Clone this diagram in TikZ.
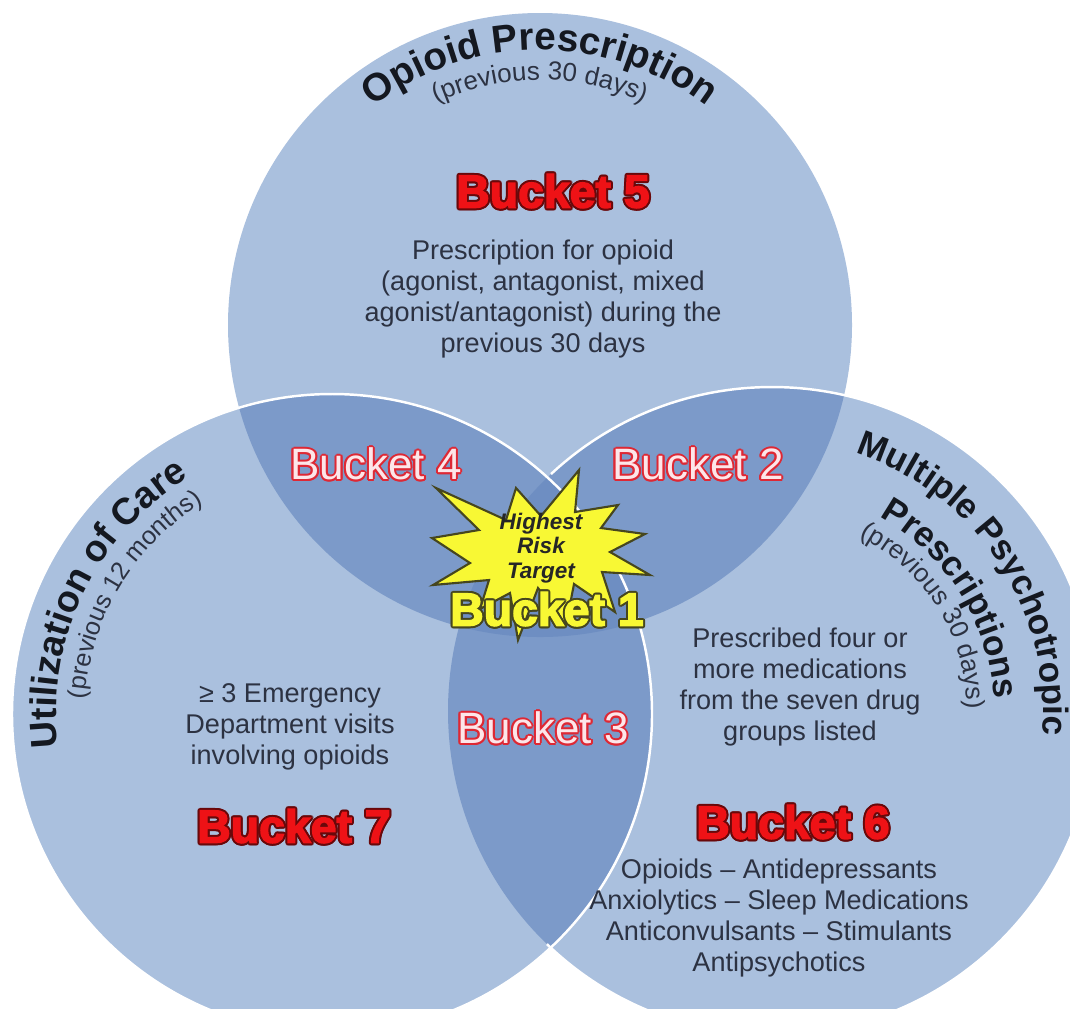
\documentclass[tikz,border=0pt]{standalone}
\usepackage{fontspec}
\setmainfont{Liberation Sans}
\newfontfamily\heavyfont[FakeBold=3]{Liberation Sans}
\usepackage{tikz}
\usetikzlibrary{calc}
\usetikzlibrary{decorations.text}

\definecolor{lightfill}{RGB}{170,192,222}
\definecolor{darkfill}{RGB}{124,154,201}
\definecolor{tripfill}{RGB}{110,142,194}
\definecolor{bodytext}{RGB}{44,50,66}
\definecolor{titletext}{RGB}{20,24,32}
\definecolor{bucketred}{RGB}{238,18,22}
\definecolor{bucketedge}{RGB}{105,8,10}
\definecolor{lenstext}{RGB}{253,230,233}
\definecolor{lensedge}{RGB}{222,40,52}
\definecolor{staryellow}{RGB}{248,248,52}
\definecolor{starline}{RGB}{70,70,30}

\tikzset{
  body/.style={inner sep=0pt, align=center, text=bodytext,
    font=\fontsize{7.7}{8.8}\selectfont},
  heavy/.style={inner sep=0pt, font=\heavyfont\bfseries\fontsize{13.2}{14}\selectfont},
  lens/.style={inner sep=0pt, font=\fontsize{12.5}{13}\selectfont},
  startext/.style={inner sep=0pt, align=center, text=black!85,
    font=\bfseries\itshape\fontsize{6.4}{6.9}\selectfont},
  rim/.style={draw=white, line width=0.7pt},
  arctitle/.style={decorate, decoration={text along path, text align=center}},
}

% text with a coloured edge: name, position, style, edge colour, text
\newcommand{\outlinetext}[5]{%
  \foreach \ang in {0,30,...,330}
    \node[#3, text=#4] (#1-\ang) at ($(#2)+(\ang:2)$) {#5};
  \node[#3] (#1) at (#2) {#5};
}

\begin{document}
\begin{tikzpicture}[x=0.01cm, y=0.01cm]
  \useasboundingbox (0,0) rectangle (1070,-1008);
  \clip (0,0) rectangle (1070,-1008);
  \fill[white] (0,0) rectangle (1070,-1008);

  % Circle centres
  \coordinate (opioid) at (540,-325);
  \coordinate (care) at (332,-714);
  \coordinate (psych) at (772,-711);

  % Circles
  \fill[lightfill] (opioid) circle[radius=312];
  \fill[lightfill] (psych) circle[radius=324];
  \fill[lightfill] (care) circle[radius=320];

  % Overlaps
  \begin{scope}
    \clip (opioid) circle[radius=312];
    \fill[darkfill] (care) circle[radius=320];
    \fill[darkfill] (psych) circle[radius=324];
  \end{scope}
  \begin{scope}
    \clip (care) circle[radius=320];
    \fill[darkfill] (psych) circle[radius=324];
    \clip (psych) circle[radius=324];
    \fill[tripfill] (opioid) circle[radius=312];
  \end{scope}

  % Rims
  \draw[rim] (care) circle[radius=320];
  \draw[rim] (psych) ++(-134:324) arc[start angle=-134, end angle=133, radius=324];

  % Titles along the circles
  \path[arctitle, decoration={text={|\color{titletext}\bfseries\fontsize{11}{11}\selectfont|Opioid Prescription}}]
    (opioid) ++(160:275) arc[start angle=160, end angle=20, radius=275];
  \path[arctitle, decoration={text={|\color{bodytext}\fontsize{7.4}{7.4}\selectfont|(previous 30 days)}}]
    (opioid) ++(160:245) arc[start angle=160, end angle=20, radius=245];

  \path[arctitle, decoration={text={|\color{titletext}\bfseries\fontsize{10.6}{10.6}\selectfont|Utilization of Care}}]
    (care) ++(224:276) arc[start angle=224, end angle=84, radius=276];
  \path[arctitle, decoration={text={|\color{bodytext}\fontsize{7.2}{7.2}\selectfont|(previous 12 months)}}]
    (care) ++(219:247) arc[start angle=219, end angle=79, radius=247];

  \path[arctitle, decoration={text={|\color{titletext}\bfseries\fontsize{10}{10}\selectfont|Multiple Psychotropic}}]
    (psych) ++(108:271) arc[start angle=108, end angle=-41, radius=271];
  \path[arctitle, decoration={text={|\color{titletext}\bfseries\fontsize{10}{10}\selectfont|Prescriptions}}]
    (psych) ++(107:222) arc[start angle=107, end angle=-43, radius=222];
  \path[arctitle, decoration={text={|\color{bodytext}\fontsize{7.4}{7.4}\selectfont|(previous 30 days)}}]
    (psych) ++(107:195) arc[start angle=107, end angle=-43, radius=195];

  % Highest risk star
  \draw[fill=staryellow, draw=starline, line width=0.6pt]
    (541,-516) -- (579,-470) -- (575,-512) -- (618,-505) -- (601,-528)
    -- (645,-534) -- (610,-552) -- (650,-575) -- (602,-572) -- (615,-612)
    -- (574,-584) -- (566,-625) -- (538,-588) -- (518,-640) -- (510,-593)
    -- (480,-609) -- (489,-580) -- (433,-585) -- (470,-563) -- (432,-538)
    -- (479,-530) -- (436,-488) -- (506,-520) -- (516,-488) -- cycle;
  \node[startext] (risk) at (541,-548) {Highest\\Risk\\Target};

  % Bucket 5
  \outlinetext{b5}{553,-191}{heavy, text=bucketred}{bucketedge}{Bucket 5}
  \node[body] (b5text) at (543,-299)
    {Prescription for opioid\\(agonist, antagonist, mixed\\agonist/antagonist) during the\\previous 30 days};

  % Overlap buckets
  \outlinetext{b4}{376,-464}{lens, text=lenstext}{lensedge}{Bucket 4}
  \outlinetext{b2}{698,-464}{lens, text=lenstext}{lensedge}{Bucket 2}
  \outlinetext{b3}{543,-728}{lens, text=lenstext}{lensedge}{Bucket 3}
  \outlinetext{b1}{547,-609}{heavy, text=staryellow}{starline}{Bucket 1}

  % Bucket 7
  \node[body] (b7text) at (290,-727)
    {≥ 3 Emergency\\Department visits\\involving opioids};
  \outlinetext{b7}{294,-826}{heavy, text=bucketred}{bucketedge}{Bucket 7}

  % Bucket 6
  \node[body] (b6text) at (800,-687)
    {Prescribed four or\\more medications\\from the seven drug\\groups listed};
  \outlinetext{b6}{793,-822}{heavy, text=bucketred}{bucketedge}{Bucket 6}
  \node[body] (druglist) at (779,-918)
    {Opioids -- Antidepressants\\Anxiolytics -- Sleep Medications\\Anticonvulsants -- Stimulants\\Antipsychotics};
\end{tikzpicture}
\end{document}
